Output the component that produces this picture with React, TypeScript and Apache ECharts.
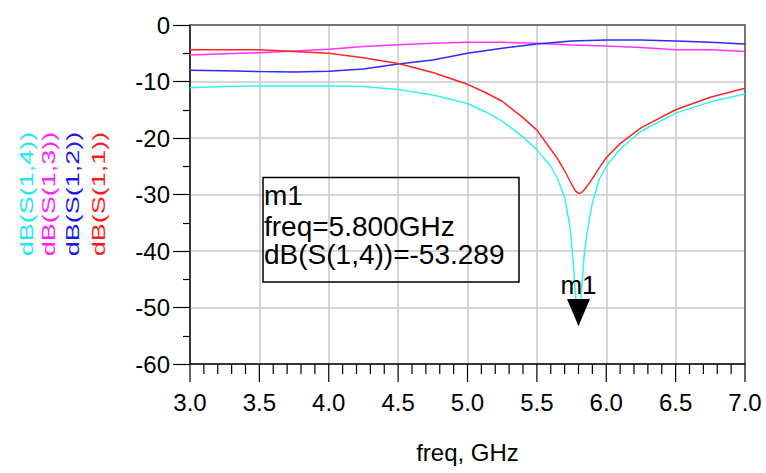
import React, { useEffect, useRef } from "react";
import * as echarts from "echarts";

const freqFine = [3.0, 3.25, 3.5, 3.75, 4.0, 4.25, 4.5, 4.75, 5.0, 5.125, 5.25, 5.4, 5.5, 5.6, 5.65, 5.7, 5.74, 5.76, 5.78, 5.8, 5.82, 5.84, 5.86, 5.9, 5.95, 6.0, 6.1, 6.25, 6.5, 6.75, 7.0];
const s11 = [-4.4, -4.4, -4.4, -4.7, -5.0, -5.8, -6.8, -8.4, -10.5, -11.9, -13.5, -16.4, -18.6, -22.0, -23.7, -25.8, -27.7, -28.6, -29.4, -29.8, -29.7, -29.2, -28.6, -27.2, -25.3, -23.5, -21.0, -18.2, -15.0, -12.8, -11.2];
const s14 = [-11.1, -10.9, -10.8, -10.8, -10.8, -10.9, -11.4, -12.4, -13.9, -15.3, -17.0, -19.8, -22.1, -25.0, -27.3, -30.5, -36.0, -41.5, -48.0, -53.289, -47.5, -41.0, -37.0, -31.5, -27.3, -25.0, -22.0, -18.8, -15.6, -13.6, -12.2];

const freqCoarse = [3.0, 3.25, 3.5, 3.75, 4.0, 4.25, 4.5, 4.75, 5.0, 5.25, 5.5, 5.75, 6.0, 6.25, 6.5, 6.75, 7.0];
const s13 = [-5.3, -5.1, -4.9, -4.6, -4.3, -3.8, -3.5, -3.25, -3.07, -3.07, -3.25, -3.54, -3.7, -4.0, -4.4, -4.4, -4.7];
const s12 = [-8.0, -8.1, -8.25, -8.3, -8.2, -7.8, -6.9, -6.2, -5.0, -4.1, -3.35, -2.85, -2.65, -2.65, -2.85, -3.05, -3.35];

const traceNames = ["dB(S(1,4))", "dB(S(1,3))", "dB(S(1,2))", "dB(S(1,1))"];
const traceColors = ["#33f3f3", "#ff33ff", "#2b2bff", "#ff2424"];
const legendColors = ["#22e8ee", "#ff22ff", "#1a1aee", "#ff1a1a"];

const markerName = "m1";
const markerFreq = 5.8;
const markerValue = -53.289;
const markerLines = [markerName, "freq=5.800GHz", "dB(S(1,4))=-53.289"];

const X_MIN = 3;
const X_MAX = 7;
const Y_MIN = -60;
const Y_MAX = 0;
const X_MINOR_STEP = 0.1;

const FONT = "'Liberation Sans', Arial, sans-serif";

function zip(xs: number[], ys: number[]) {
  return xs.map((x, i) => [x, ys[i]]);
}

export default function App() {
  const ref = useRef<HTMLDivElement>(null);
  useEffect(() => {
    if (!ref.current) return;
    const chart = echarts.init(ref.current, undefined, { renderer: "svg" });
    const legendX = [26, 48.5, 72.5, 98];
    const tickStyle = { show: true, lineStyle: { color: "#000", width: 1.2 } };
    const off = { show: false };
    const baseGraphics: any[] = [
      ...traceNames.map((t, i) => ({
        type: "text",
        x: legendX[i],
        y: 194,
        rotation: Math.PI / 2,
        scaleX: 1.42,
        style: {
          text: t,
          fill: legendColors[i],
          font: `19px ${FONT}`,
          align: "center",
          verticalAlign: "middle",
        },
      })),
      {
        type: "rect",
        shape: { x: 263, y: 177.5, width: 256, height: 104.5 },
        style: { fill: "transparent", stroke: "#000", lineWidth: 1.5 },
        z: 100,
      },
      ...markerLines.map((t, i) => ({
        type: "text",
        x: 264,
        y: [195, 226, 254][i],
        style: {
          text: t,
          fill: "#000",
          font: `28px ${FONT}`,
          align: "left",
          verticalAlign: "middle",
        },
        z: 100,
      })),
    ];
    const option: any = {
      animation: false,
      backgroundColor: "#ffffff",
      grid: {
        left: 190,
        right: 21,
        top: 25,
        bottom: 109,
        show: false,
      },
      xAxis: [
        {
          type: "value",
          position: "bottom",
          min: X_MIN,
          max: X_MAX,
          interval: 0.5,
          name: "freq, GHz",
          nameLocation: "middle",
          nameGap: 76,
          nameTextStyle: { fontSize: 24, color: "#000", fontFamily: FONT },
          axisLine: { show: true, onZero: false, lineStyle: { color: "#000", width: 1.5 } },
          axisTick: off,
          minorTick: off,
          axisLabel: {
            show: true,
            fontSize: 24,
            color: "#000",
            fontFamily: FONT,
            margin: 26,
            formatter: (v: number) => v.toFixed(1),
          },
          splitLine: { show: true, lineStyle: { color: "#c8c8c8", width: 1.5 } },
        },
        {
          type: "value",
          position: "top",
          min: X_MIN,
          max: X_MAX,
          interval: 0.5,
          axisLine: { show: true, onZero: false, lineStyle: { color: "#555", width: 1.5 } },
          axisTick: off,
          minorTick: off,
          axisLabel: off,
          splitLine: off,
        },
      ],
      yAxis: [
        {
          type: "value",
          position: "left",
          min: Y_MIN,
          max: Y_MAX,
          interval: 10,
          axisLine: { show: true, onZero: false, lineStyle: { color: "#000", width: 1.5 } },
          axisTick: { ...tickStyle, length: 17 },
          minorTick: { ...tickStyle, splitNumber: 2, length: 7 },
          axisLabel: { fontSize: 24, color: "#000", fontFamily: FONT, margin: 20 },
          splitLine: { show: true, lineStyle: { color: "#c8c8c8", width: 1.5 } },
        },
        {
          type: "value",
          position: "right",
          min: Y_MIN,
          max: Y_MAX,
          interval: 10,
          axisLine: { show: true, onZero: false, lineStyle: { color: "#555", width: 1.5 } },
          axisTick: off,
          minorTick: off,
          axisLabel: off,
          splitLine: off,
        },
      ],
      series: [
        {
          name: traceNames[0],
          type: "line",
          data: zip(freqFine, s14),
          showSymbol: false,
          lineStyle: { color: traceColors[0], width: 1.5 },
          itemStyle: { color: traceColors[0] },
          z: 2,
          markPoint: {
            silent: true,
            data: [
              {
                coord: [markerFreq, markerValue],
                symbol: "triangle",
                symbolRotate: 180,
                symbolSize: [23, 27],
                symbolOffset: [0, "-50%"],
                itemStyle: { color: "#000" },
                label: {
                  show: true,
                  position: "top",
                  distance: 1,
                  formatter: markerName,
                  fontSize: 26,
                  color: "#000",
                  fontFamily: FONT,
                },
              },
            ],
          },
        },
        {
          name: traceNames[1],
          type: "line",
          data: zip(freqCoarse, s13),
          showSymbol: false,
          lineStyle: { color: traceColors[1], width: 1.5 },
          z: 3,
        },
        {
          name: traceNames[2],
          type: "line",
          data: zip(freqCoarse, s12),
          showSymbol: false,
          lineStyle: { color: traceColors[2], width: 1.5 },
          z: 3,
        },
        {
          name: traceNames[3],
          type: "line",
          data: zip(freqFine, s11),
          showSymbol: false,
          lineStyle: { color: traceColors[3], width: 1.5 },
          z: 4,
        },
      ],
      graphic: baseGraphics,
    };
    chart.setOption(option);

    // x-axis ticks placed through the library's own scale
    const nTicks = Math.round((X_MAX - X_MIN) / X_MINOR_STEP);
    const tickGraphics: any[] = [];
    for (let i = 0; i <= nTicks; i++) {
      const v = X_MIN + i * X_MINOR_STEP;
      const p = chart.convertToPixel({ xAxisIndex: 0, yAxisIndex: 0 }, [v, Y_MIN]) as number[];
      if (!p) continue;
      const major = i % 5 === 0;
      tickGraphics.push({
        type: "line",
        z: 200,
        silent: true,
        shape: { x1: p[0], y1: p[1], x2: p[0], y2: p[1] + (major ? 18 : 10) },
        style: { stroke: "#000", lineWidth: 1.2 },
      });
    }
    chart.setOption({ graphic: [...baseGraphics, ...tickGraphics] });
    return () => chart.dispose();
  }, []);
  return (
    <div
      ref={ref}
      style={{ position: "fixed", left: 0, top: 0, width: 766, height: 473, background: "#fff" }}
    />
  );
}
